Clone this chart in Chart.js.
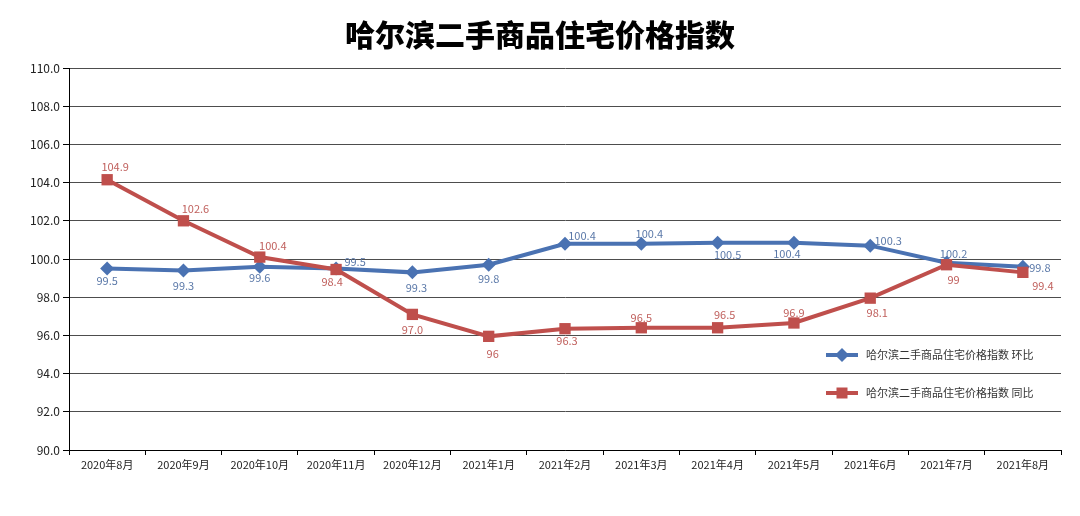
<!DOCTYPE html>
<html lang="zh-CN">
<head>
  <meta charset="UTF-8" />
  <title>哈尔滨二手商品住宅价格指数</title>
  <script src="https://cdn.jsdelivr.net/npm/chart.js"></script>
  <style>
    html, body { margin: 0; padding: 0; background: #ffffff; }
    #wrap { width: 1080px; height: 516px; }
  </style>
</head>
<body>
  <div id="wrap"><canvas id="grafico"></canvas></div>

  <script>
    // === DADOS ===
    const meses = ["2020年8月", "2020年9月", "2020年10月", "2020年11月", "2020年12月", "2021年1月",
      "2021年2月", "2021年3月", "2021年4月", "2021年5月", "2021年6月", "2021年7月", "2021年8月"];

    // posição desenhada dos pontos
    const huanbi = [99.5, 99.4, 99.6, 99.5, 99.3, 99.7, 100.8, 100.8, 100.85, 100.85, 100.7, 99.8, 99.6];
    const tongbi = [104.15, 102.0, 100.1, 99.45, 97.1, 95.95, 96.35, 96.4, 96.4, 96.65, 97.95, 99.7, 99.3];

    // rótulos escritos junto aos pontos
    const huanbiLabels = ["99.5", "99.3", "99.6", "99.5", "99.3", "99.8", "100.4", "100.4", "100.5", "100.4", "100.3", "100.2", "99.8"];
    const tongbiLabels = ["104.9", "102.6", "100.4", "98.4", "97.0", "96", "96.3", "96.5", "96.5", "96.9", "98.1", "99", "99.4"];

    const yTicks = [90, 92, 94, 96, 98, 100, 102, 104, 106, 108, 110];

    const nomeHB = "哈尔滨二手商品住宅价格指数 环比";
    const nomeTB = "哈尔滨二手商品住宅价格指数 同比";

    const AZUL = "#4a72b2";
    const VERMELHO = "#bf4f4c";
    const FONTE = "'Noto Sans CJK SC', 'Noto Sans', sans-serif";

    // deslocamento dos rótulos [dx, dy]
    const offHB = [[0, 12], [0, 15], [0, 11], [19, -7], [4, 15], [0, 14], [17, -8], [8, -10], [10, 12], [-7, 11], [18, -5], [7, -9], [17, 1]];
    const offTB = [[8, -13], [12, -12], [13, -11], [-4, 12], [0, 15], [4, 17], [2, 12], [0, -10], [7, -13], [0, -10], [7, 15], [7, 15], [20, 13]];

    const rotulos = {
      id: "rotulos",
      afterDatasetsDraw(chart) {
        const ctx = chart.ctx;
        ctx.save();
        ctx.font = "11px " + FONTE;
        ctx.textAlign = "center";
        ctx.textBaseline = "middle";
        chart.data.datasets.forEach((ds, i) => {
          const meta = chart.getDatasetMeta(i);
          meta.data.forEach((pt, j) => {
            const off = ds.offsets[j];
            ctx.fillStyle = ds.labelColor;
            ctx.fillText(ds.textos[j], pt.x + off[0], pt.y + off[1]);
          });
        });
        ctx.restore();
      }
    };

    // legenda dentro da área do gráfico, embaixo à direita
    const legenda = {
      id: "legenda",
      afterDraw(chart) {
        const ctx = chart.ctx;
        const area = chart.chartArea;
        const x0 = area.right - 235;
        const itens = [chart.data.datasets[1], chart.data.datasets[0]];
        itens.forEach((ds, k) => {
          const y = area.bottom - 95 + k * 38;
          const cx = x0 + 16;
          ctx.save();
          ctx.strokeStyle = ds.borderColor;
          ctx.lineWidth = 4;
          ctx.beginPath();
          ctx.moveTo(x0, y);
          ctx.lineTo(x0 + 32, y);
          ctx.stroke();
          ctx.fillStyle = ds.borderColor;
          ctx.beginPath();
          if (ds.pointStyle === "rect") {
            ctx.rect(cx - 5.5, y - 5.5, 11, 11);
          } else {
            ctx.moveTo(cx, y - 7);
            ctx.lineTo(cx + 7, y);
            ctx.lineTo(cx, y + 7);
            ctx.lineTo(cx - 7, y);
            ctx.closePath();
          }
          ctx.fill();
          ctx.fillStyle = "#333333";
          ctx.font = "11px " + FONTE;
          ctx.textBaseline = "middle";
          ctx.textAlign = "left";
          ctx.fillText(ds.label, x0 + 40, y);
          ctx.restore();
        });
      }
    };

    new Chart(document.getElementById("grafico"), {
      type: "line",
      data: {
        labels: meses,
        datasets: [
          {
            label: nomeTB,
            data: tongbi,
            textos: tongbiLabels,
            offsets: offTB,
            labelColor: "#c0605d",
            borderColor: VERMELHO,
            backgroundColor: VERMELHO,
            borderWidth: 4,
            pointStyle: "rect",
            pointRadius: 8,
            pointBorderWidth: 0,
            tension: 0,
            order: 0
          },
          {
            label: nomeHB,
            data: huanbi,
            textos: huanbiLabels,
            offsets: offHB,
            labelColor: "#5a78a8",
            borderColor: AZUL,
            backgroundColor: AZUL,
            borderWidth: 4,
            pointStyle: "rectRot",
            pointRadius: 7,
            pointBorderWidth: 0,
            tension: 0,
            order: 1
          }
        ]
      },
      options: {
        responsive: true,
        maintainAspectRatio: false,
        animation: false,
        layout: { padding: { left: 19, right: 19, top: 0, bottom: 0 } },
        plugins: {
          legend: { display: false },
          tooltip: { enabled: false },
          title: {
            display: true,
            text: "哈尔滨二手商品住宅价格指数",
            color: "#000000",
            font: { family: FONTE, size: 30, weight: "900" },
            padding: { top: 17, bottom: 15 }
          }
        },
        scales: {
          x: {
            offset: true,
            afterFit(scale) { scale.height = 66; },
            grid: {
              display: true,
              offset: true,
              drawOnChartArea: false,
              drawTicks: true,
              tickLength: 5,
              tickColor: "#000000"
            },
            border: { display: true, color: "#000000", width: 1 },
            ticks: {
              color: "#222222",
              font: { family: FONTE, size: 11 },
              padding: 3,
              maxRotation: 0,
              autoSkip: false
            }
          },
          y: {
            min: 90,
            max: 110,
            afterFit(scale) { scale.width = 50; },
            afterBuildTicks(scale) { scale.ticks = yTicks.map(v => ({ value: v })); },
            grid: {
              color: "#4d4d4d",
              lineWidth: 1,
              drawTicks: true,
              tickLength: 6,
              tickColor: "#000000"
            },
            border: { display: true, color: "#000000", width: 1 },
            ticks: {
              color: "#222222",
              font: { family: FONTE, size: 12 },
              padding: 3,
              callback: v => Number(v).toFixed(1)
            }
          }
        }
      },
      plugins: [rotulos, legenda]
    });
  </script>
</body>
</html>
